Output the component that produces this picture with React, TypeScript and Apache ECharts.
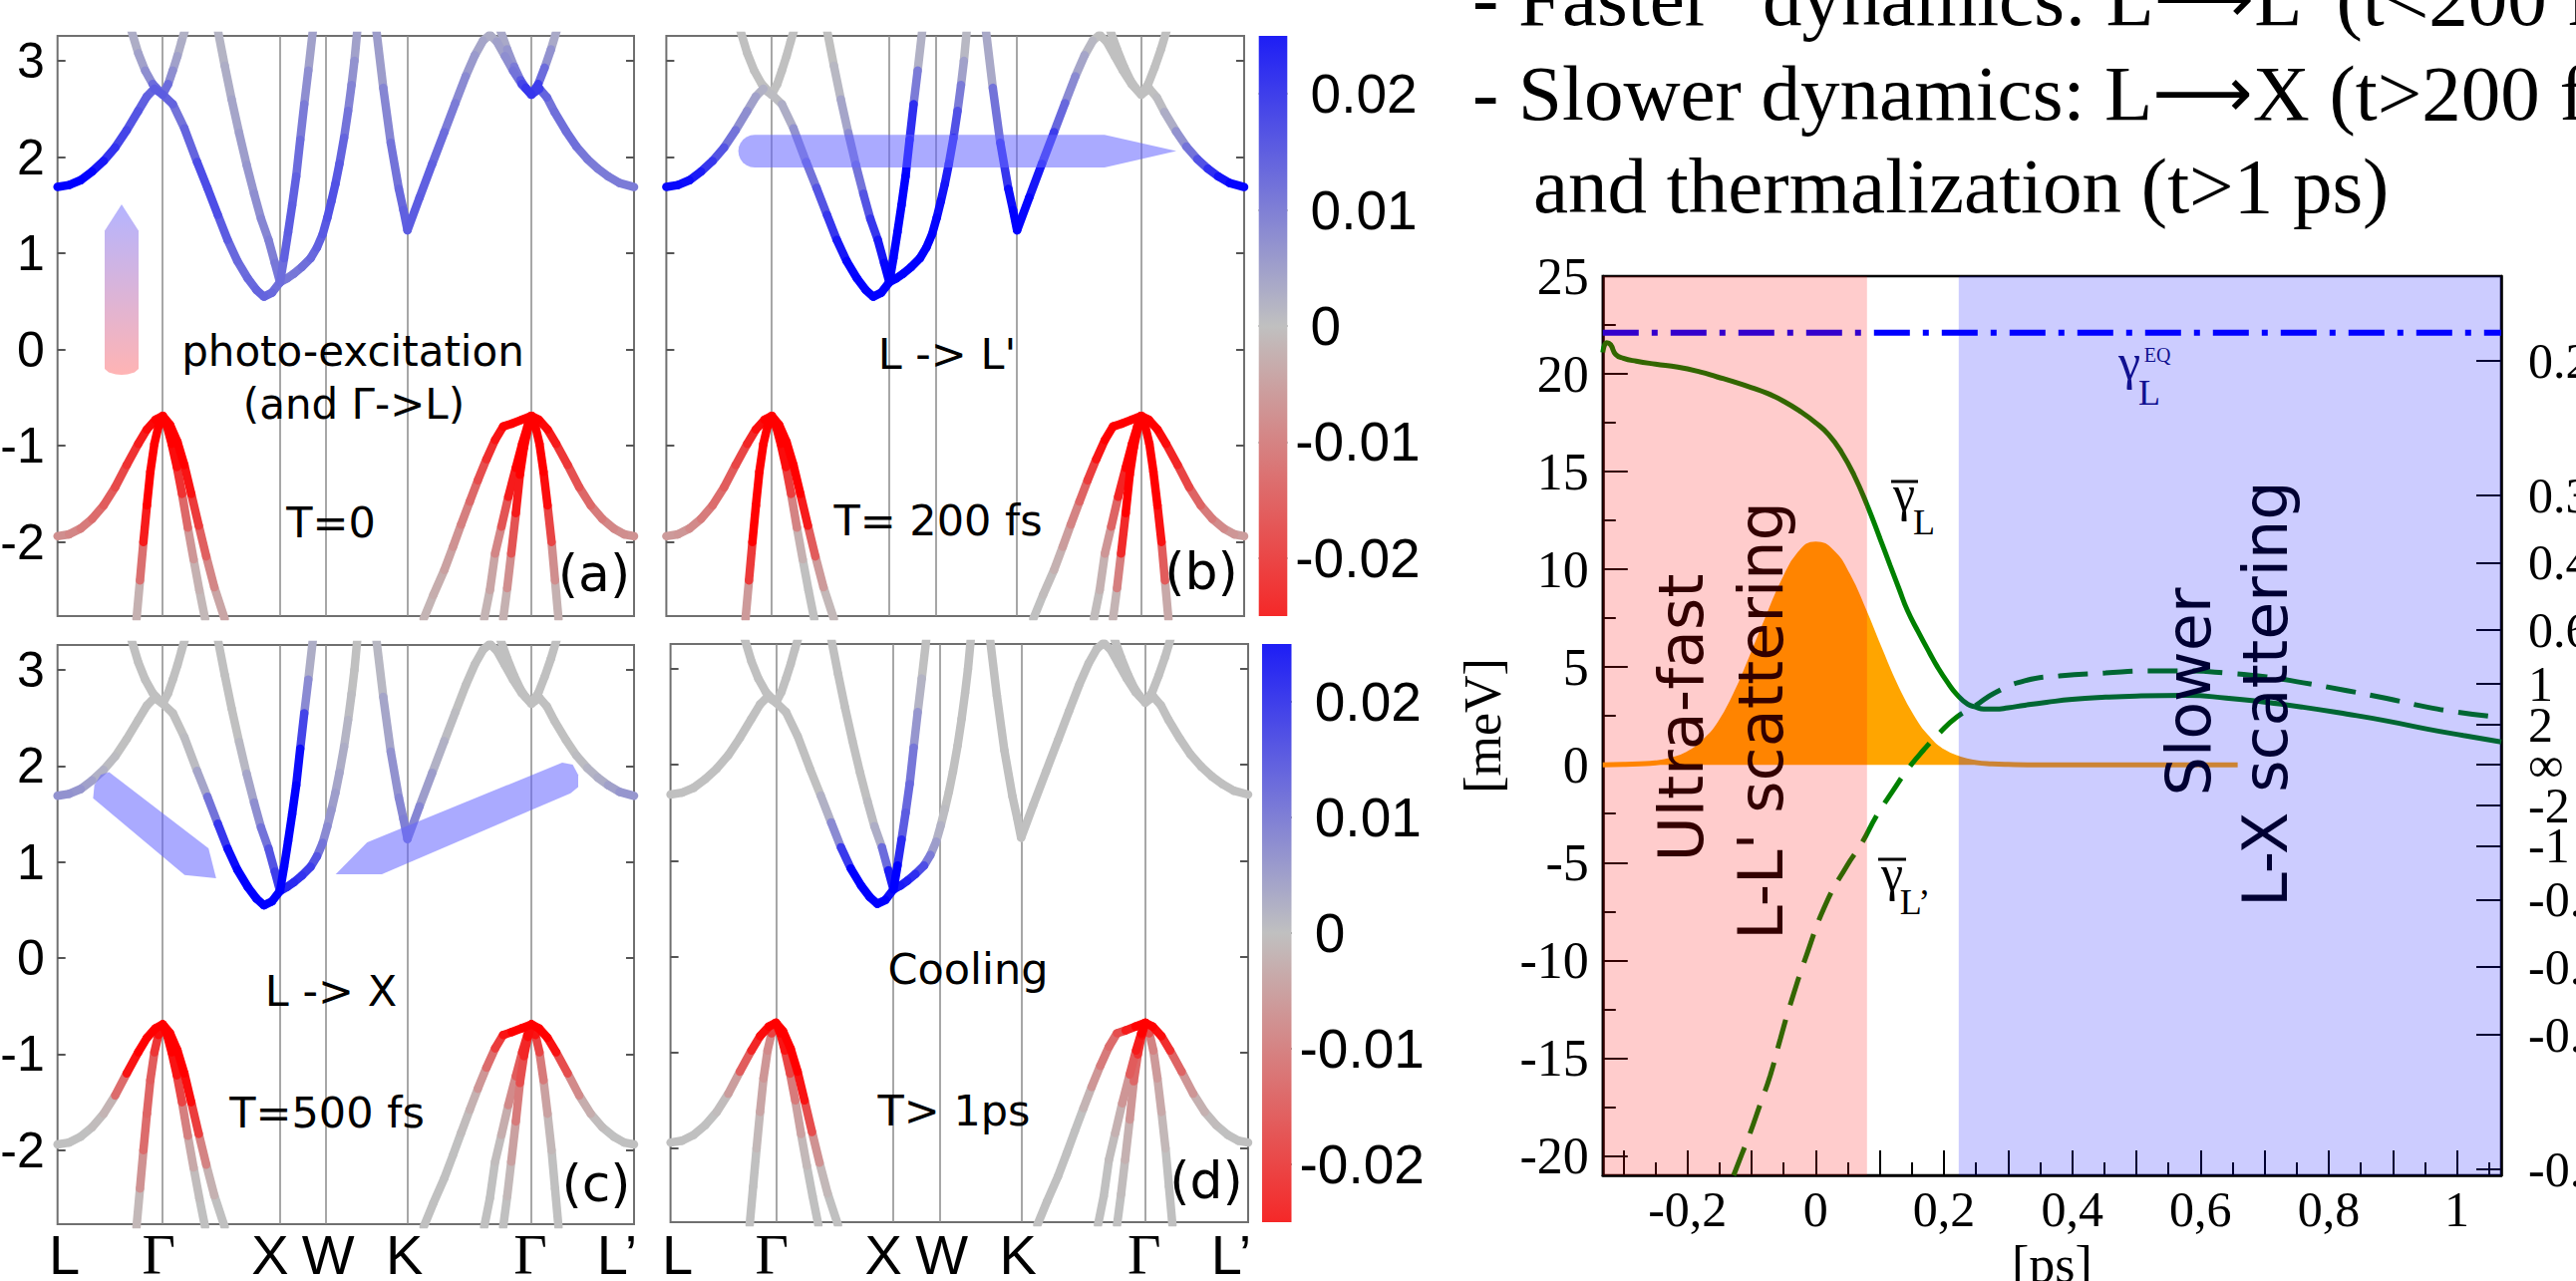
import React, { useEffect, useRef } from 'react';
import * as echarts from 'echarts';

// ================= Band-structure panels (a)-(d) =================
const K_POINTS = [0, 0.1825, 0.386, 0.466, 0.607, 0.822, 1];
const K_LABELS = ['L', 'Γ', 'X', 'W', 'K', 'Γ', 'L’'];
const E_TICKS = [-2, -1, 0, 1, 2, 3];
const E_RANGE = [-2.77, 3.26];

// conduction bands: [k (path fraction), E (eV)]
const cb1 = [[0,1.69],[0.02,1.71],[0.04,1.76],[0.06,1.85],[0.08,1.96],[0.1,2.1],[0.12,2.28],[0.14,2.48],[0.155,2.63],[0.168,2.71],[0.1825,2.65]];
const cb2 = [[0.128,3.32],[0.14,3.08],[0.152,2.9],[0.165,2.76],[0.1825,2.65]];
const cb3 = [[0.1825,2.65],[0.192,2.76],[0.2,2.9],[0.208,3.05],[0.215,3.2],[0.221,3.32]];
const cb4 = [[0.1825,2.65],[0.2,2.55],[0.22,2.3],[0.242,1.95],[0.26,1.68],[0.278,1.4],[0.295,1.14],[0.312,0.92],[0.33,0.74],[0.345,0.62],[0.358,0.55],[0.372,0.59],[0.386,0.7]];
const cb5 = [[0.278,3.32],[0.29,2.95],[0.302,2.6],[0.315,2.25],[0.328,1.92],[0.341,1.62],[0.353,1.36],[0.366,1.14],[0.377,0.9],[0.386,0.7]];
const cb6 = [[0.386,0.7],[0.393,0.95],[0.4,1.22],[0.407,1.5],[0.414,1.8],[0.421,2.18],[0.428,2.55],[0.435,2.9],[0.443,3.32]];
const cb7 = [[0.386,0.7],[0.398,0.74],[0.41,0.79],[0.424,0.86],[0.439,0.95],[0.45,1.06],[0.46,1.2],[0.468,1.37],[0.475,1.54],[0.482,1.72],[0.489,1.93],[0.497,2.2],[0.504,2.48],[0.51,2.75],[0.515,3.0],[0.52,3.32]];
const cb8 = [[0.553,3.32],[0.565,2.72],[0.578,2.15],[0.592,1.67],[0.6,1.45],[0.607,1.24]];
const cb9 = [[0.607,1.24],[0.628,1.58],[0.65,1.93],[0.671,2.26],[0.69,2.56],[0.708,2.84],[0.724,3.06],[0.738,3.21],[0.75,3.27],[0.762,3.2],[0.776,3.05],[0.79,2.9],[0.805,2.76],[0.822,2.65]];
const cb10 = [[0.768,3.32],[0.78,3.12],[0.792,2.94],[0.803,2.8],[0.812,2.72],[0.822,2.65]];
const cb11 = [[0.822,2.65],[0.834,2.76],[0.845,2.93],[0.856,3.12],[0.866,3.32]];
const cb12 = [[0.822,2.65],[0.836,2.71],[0.849,2.62],[0.862,2.47],[0.882,2.27],[0.9,2.11],[0.919,1.98],[0.937,1.88],[0.955,1.8],[0.975,1.73],[1.0,1.69]];
// valence bands
const vb1 = [[0,-1.94],[0.02,-1.92],[0.04,-1.86],[0.06,-1.76],[0.08,-1.62],[0.1,-1.43],[0.12,-1.2],[0.14,-0.98],[0.155,-0.83],[0.17,-0.73],[0.1825,-0.69]];
const vb2 = [[0.137,-2.8],[0.143,-2.4],[0.149,-2.0],[0.155,-1.62],[0.161,-1.27],[0.168,-0.98],[0.175,-0.8],[0.1825,-0.69]];
const vb3 = [[0.1825,-0.69],[0.195,-0.78],[0.208,-0.96],[0.22,-1.2],[0.232,-1.5],[0.245,-1.83],[0.258,-2.15],[0.272,-2.47],[0.29,-2.8]];
const vb4 = [[0.1825,-0.69],[0.19,-0.8],[0.198,-0.98],[0.207,-1.22],[0.216,-1.5],[0.226,-1.85],[0.236,-2.18],[0.246,-2.5],[0.256,-2.8]];
const vb5 = [[0.635,-2.8],[0.652,-2.55],[0.671,-2.29],[0.686,-2.05],[0.7,-1.82],[0.715,-1.58],[0.729,-1.36],[0.744,-1.14],[0.759,-0.94],[0.773,-0.8],[0.788,-0.77],[0.805,-0.73],[0.822,-0.69]];
const vb6 = [[0.74,-2.8],[0.75,-2.5],[0.759,-2.12],[0.77,-1.84],[0.782,-1.53],[0.795,-1.23],[0.806,-0.98],[0.815,-0.8],[0.822,-0.69]];
const vb7 = [[0.773,-2.8],[0.78,-2.48],[0.787,-2.12],[0.795,-1.7],[0.802,-1.3],[0.809,-1.02],[0.816,-0.82],[0.822,-0.69]];
const vb8 = [[0.822,-0.69],[0.835,-0.73],[0.85,-0.83],[0.865,-0.98],[0.885,-1.2],[0.905,-1.43],[0.925,-1.62],[0.945,-1.76],[0.965,-1.86],[0.983,-1.92],[1.0,-1.94]];
const vb9 = [[0.822,-0.69],[0.829,-0.8],[0.836,-0.98],[0.843,-1.27],[0.85,-1.62],[0.857,-2.0],[0.863,-2.4],[0.869,-2.8]];

const BANDS = { cb1, cb2, cb3, cb4, cb5, cb6, cb7, cb8, cb9, cb10, cb11, cb12, vb1, vb2, vb3, vb4, vb5, vb6, vb7, vb8, vb9 };

// carrier population per band point (units of 1e-3, colour-bar scale)
const POP_A = {
  cb1: [25,25,25,24,20,17,15,13,12,12,14], cb2: [2,3,5,8,14], cb3: [14,8,5,3,2,2],
  cb4: [14,10,10,14,16,14,12,11,11,12,12,11,10], cb5: [1,2,3,4,5,6,7,8,9,10],
  cb6: [10,12,13,13,12,10,8,5,3], cb7: [10,9,9,10,11,12,13,14,15,14,13,11,9,7,5,3],
  cb8: [3,6,9,11,12,13], cb9: [13,13,12,10,8,6,4,3,2,3,5,8,12,20], cb10: [2,4,7,11,16,20],
  cb11: [20,14,8,4,2], cb12: [20,14,10,10,11,10,9,9,9,9,9],
  vb1: [-6,-7,-8,-10,-12,-14,-17,-20,-23,-25,-25], vb2: [-1,-3,-18,-25,-25,-25,-25,-25],
  vb3: [-25,-25,-25,-25,-20,-15,-10,-5,-2], vb4: [-25,-25,-25,-22,-15,-8,-3,-1,-1],
  vb5: [-1,-2,-3,-5,-7,-10,-13,-17,-21,-24,-25,-25,-25], vb6: [-1,-2,-5,-10,-18,-25,-25,-25,-25],
  vb7: [-1,-3,-10,-18,-25,-25,-25,-25], vb8: [-25,-25,-23,-20,-16,-13,-10,-8,-7,-6,-6],
  vb9: [-25,-25,-25,-25,-22,-10,-3,-1],
};
const POP_B = {
  cb1: [24,24,23,20,16,12,8,5,3,1,0], cb4: [0,1,4,8,12,16,20,24,25,25,25,25,25],
  cb5: [0,0,2,5,8,12,16,20,24,25], cb6: [25,25,25,25,25,24,14,4,0],
  cb7: [25,25,25,25,25,25,25,24,23,22,20,17,12,6,2,0], cb8: [0,6,14,22,25,25],
  cb9: [25,24,20,14,9,5,2,0,0,0,0,0,0,0], cb12: [0,0,0,1,4,8,12,17,21,24,25],
  vb1: [-5,-5,-6,-8,-10,-12,-14,-18,-22,-25,-25], vb2: [0,-10,-25,-25,-25,-25,-25,-25],
  vb3: [-25,-25,-25,-25,-25,-18,-8,-2,0], vb4: [-25,-25,-25,-22,-12,-4,0,0,0],
  vb5: [0,0,-1,-3,-6,-10,-14,-20,-25,-25,-25,-25,-25], vb6: [0,-1,-3,-8,-16,-25,-25,-25,-25],
  vb7: [0,-3,-14,-25,-25,-25,-25,-25], vb8: [-25,-25,-25,-22,-18,-14,-10,-8,-6,-5,-4],
  vb9: [-25,-25,-25,-25,-25,-20,-6,0],
};
const POP_C = {
  cb1: [6,6,5,3,1,0,0,0,0,0,0], cb4: [0,0,0,1,6,14,22,25,25,25,25,25,25],
  cb5: [0,0,0,0,2,5,8,12,16,18], cb6: [25,25,25,25,25,22,10,4,1],
  cb7: [20,20,19,18,16,12,8,6,5,4,3,2,1,0,0,0], cb8: [0,2,5,7,8,9],
  cb9: [9,6,3,1,0,0,0,0,0,0,0,0,0,0], cb12: [0,0,0,0,0,0,1,2,3,5,6],
  vb1: [0,0,0,0,-1,-2,-20,-25,-25,-25,-25], vb2: [0,-2,-10,-12,-12,-14,-22,-25],
  vb3: [-25,-25,-25,-25,-22,-12,-4,0,0], vb4: [-25,-25,-25,-20,-12,-5,-1,0,0],
  vb5: [0,0,0,0,0,-1,-3,-8,-14,-20,-25,-25,-25], vb6: [0,0,0,-1,-4,-10,-16,-22,-25],
  vb7: [0,0,-2,-6,-12,-18,-22,-25], vb8: [-25,-25,-25,-20,-10,-4,-1,0,0,0,0],
  vb9: [-25,-20,-12,-6,-2,0,0,0],
};
const POP_D = {
  cb4: [0,0,0,0,0,4,10,25,25,25,25,25,22], cb5: [0,0,0,0,0,0,1,4,18,25],
  cb6: [25,25,14,12,11,8,3,0,0], cb7: [22,22,20,18,12,6,3,1,0,0,0,0,0,0,0,0],
  vb1: [0,0,0,0,0,-1,-8,-18,-22,-25,-25], vb2: [0,0,0,-2,-5,-6,-8,-25],
  vb3: [-25,-25,-25,-25,-20,-10,-2,0,0], vb4: [-25,-25,-20,-12,-6,-2,0,0,0],
  vb5: [0,0,0,0,0,0,-3,-8,-10,-12,-18,-25,-25], vb6: [0,0,0,-1,-3,-8,-18,-25,-25],
  vb7: [0,0,-1,-3,-8,-15,-22,-25], vb8: [-25,-25,-22,-16,-8,-3,-1,0,0,0,0],
  vb9: [-20,-10,-6,-4,-2,0,0,0],
};
const CB_TICKS = [-0.02, -0.01, 0, 0.01, 0.02];
const CB_RANGE = [-0.025, 0.025];

// ================= Right chart: scattering rates =================
const X_RANGE = [-0.332, 1.069];
const Y_RANGE = [-21, 25];
const Y_MAJOR = [-20, -15, -10, -5, 0, 5, 10, 15, 20, 25];
const Y_MINOR = [-17.5, -12.5, -7.5, -2.5, 2.5, 7.5, 12.5, 17.5, 22.5];
const X_MAJOR = [-0.3, -0.2, -0.1, 0, 0.1, 0.2, 0.3, 0.4, 0.5, 0.6, 0.7, 0.8, 0.9, 1.0];
const X_LABELED = [-0.2, 0, 0.2, 0.4, 0.6, 0.8, 1.0];
const X_MINOR = [-0.25, -0.15, -0.05, 0.05, 0.15, 0.25, 0.35, 0.45, 0.55, 0.65, 0.75, 0.85, 0.95, 1.05];
const TAU_VALUES = [0.2, 0.3, 0.4, 0.6, 1, 2, Infinity, -2, -1, -0.6, -0.4, -0.3, -0.2];
const TAU_LABELS = ['0.2', '0.3', '0.4', '0.6', '1', '2', '∞', '-2', '-1', '-0.6', '-0.4', '-0.3', '-0.2'];
const PLANCK_MEV_PS = 4.136;

const T_PULSE = [-0.332,-0.3,-0.275,-0.25,-0.225,-0.2,-0.175,-0.15,-0.125,-0.1,-0.075,-0.05,-0.025,0,0.025,0.05,0.075,0.1,0.125,0.15,0.175,0.2,0.225,0.25,0.275,0.3,0.35,0.4,0.5,0.6,0.658];
const PULSE = [0,0.02,0.05,0.1,0.25,0.55,1.15,2.1,3.6,5.5,7.5,9.4,10.8,11.3,10.9,9.7,7.9,5.9,4.0,2.45,1.35,0.65,0.3,0.12,0.05,0.02,0,0,0,0,0];

const T_GL = [-0.332,-0.326,-0.32,-0.312,-0.3,-0.28,-0.25,-0.215,-0.18,-0.154,-0.128,-0.1,-0.075,-0.05,-0.025,0,0.02,0.04,0.06,0.08,0.1,0.116,0.13,0.143,0.16,0.178,0.19,0.206,0.22,0.237,0.25,0.262,0.28,0.3,0.326,0.36,0.4,0.452,0.5,0.578,0.64,0.703,0.76,0.828,0.89,0.954,1.01,1.069];
const GAMMA_L = [21.1,21.6,21.5,21.0,20.8,20.65,20.5,20.35,20.1,19.85,19.6,19.3,19.0,18.6,18.1,17.5,16.9,16.0,14.8,13.3,11.6,10.2,9.0,7.9,6.8,5.7,5.0,4.2,3.6,3.1,2.95,2.85,2.85,2.92,3.05,3.2,3.35,3.46,3.52,3.55,3.42,3.2,2.95,2.6,2.25,1.83,1.5,1.17];

const T_GLP = [-0.128,-0.115,-0.103,-0.087,-0.071,-0.055,-0.04,-0.015,0.016,0.048,0.072,0.095,0.12,0.143,0.168,0.192,0.22,0.248,0.28,0.326,0.38,0.452,0.52,0.578,0.64,0.703,0.76,0.828,0.89,0.954,1.0,1.061];
const GAMMA_LP = [-21.0,-19.9,-18.9,-17.4,-15.9,-14.0,-12.3,-9.8,-7.1,-5.2,-4.0,-2.6,-1.35,-0.25,0.75,1.6,2.45,3.0,3.7,4.3,4.55,4.7,4.8,4.8,4.7,4.5,4.2,3.8,3.4,2.95,2.7,2.45];

const GAMMA_EQ = 22.1;
const SHADE_RANGES = [[-0.332, 0.08], [0.223, 1.069]];
const SHADE_COLORS = ['rgba(255,0,0,0.2)', 'rgba(0,0,255,0.2)'];

// ================= helpers =================
function popColor(v: number) {
  const t = Math.max(-1, Math.min(1, v / 25));
  const g = 192;
  let r, gg, b;
  if (t >= 0) { r = g * (1 - t); gg = g * (1 - t); b = g + (255 - g) * t; }
  else { const s = -t; r = g + (255 - g) * s; gg = g * (1 - s); b = g * (1 - s); }
  return `rgb(${Math.round(r)},${Math.round(gg)},${Math.round(b)})`;
}

function bandSegments(pop: any) {
  const out: any[] = [];
  Object.keys(BANDS).forEach((name) => {
    const pts = (BANDS as any)[name];
    const vals = pop[name] || [];
    for (let i = 0; i < pts.length - 1; i++) {
      const v = ((vals[i] ?? 0) + (vals[i + 1] ?? 0)) / 2;
      out.push({ v, coords: [pts[i], pts[i + 1]], lineStyle: { color: popColor(v) } });
    }
  });
  out.sort((a, b) => Math.abs(a.v) - Math.abs(b.v));
  return out.map(({ coords, lineStyle }) => ({ coords, lineStyle }));
}

const zip = (xs: number[], ys: number[]) => xs.map((x, i) => [x, ys[i]]);

const PANELS = [
  { left: 57.7, top: 36, width: 578.3, height: 582, labels: true, pop: POP_A },
  { left: 668.4, top: 36, width: 579.6, height: 582, labels: false, pop: POP_B },
  { left: 57.7, top: 647, width: 578.3, height: 581, labels: true, pop: POP_C },
  { left: 672.6, top: 646, width: 579.4, height: 580, labels: false, pop: POP_D },
];
const CBARS = [
  { left: 1262.7, top: 36, width: 28.6, height: 582 },
  { left: 1266, top: 646, width: 29.5, height: 580 },
];
const RIGHT = { left: 1607.8, top: 277, width: 901.2, height: 902 };
const K_LABEL_OFFSETS = [7, -4, -10, 2, -3, -1, -17];

function txt(x: number, y: number, text: string, size: number, family = 'DejaVu Sans', fill = '#000', align = 'center', rotation = 0) {
  return {
    type: 'text', x, y, rotation, z: 100, silent: true,
    style: { text, fontFamily: family, fontSize: size, fill, align, verticalAlign: 'middle' },
  };
}

function arrowLine(x: number, y: number, before: string, after: string) {
  return {
    type: 'text', x, y, z: 100, silent: true,
    style: {
      text: `{a|${before}}{b|⟶}{a|${after}}`, align: 'left', verticalAlign: 'middle',
      rich: {
        a: { fontFamily: 'Liberation Serif', fontSize: 79, fill: '#000' },
        b: { fontFamily: 'DejaVu Sans', fontSize: 70, fill: '#000' },
      },
    },
  };
}

function buildOption() {
  const grid: any[] = [];
  const xAxis: any[] = [];
  const yAxis: any[] = [];
  const series: any[] = [];

  PANELS.forEach((p, i) => {
    grid.push({ left: p.left, top: p.top, width: p.width, height: p.height, show: true, borderColor: '#707070', borderWidth: 2, backgroundColor: 'rgba(0,0,0,0)', outerBoundsMode: 'none', containLabel: false });
    xAxis.push({ gridIndex: i, type: 'value', min: 0, max: 1, show: false });
    const mkTick = () => ({ show: true, inside: true, length: 8, customValues: E_TICKS, lineStyle: { color: '#555', width: 2 } });
    yAxis.push({
      gridIndex: i, type: 'value', min: E_RANGE[0], max: E_RANGE[1], position: 'left',
      axisLine: { show: false, onZero: false }, axisTick: mkTick(), splitLine: { show: false },
      axisLabel: { show: p.labels, customValues: E_TICKS, fontFamily: 'Liberation Sans', fontSize: 50, color: '#000', margin: 13 },
    });
    yAxis.push({
      gridIndex: i, type: 'value', min: E_RANGE[0], max: E_RANGE[1], position: 'right',
      axisLine: { show: false, onZero: false }, axisTick: mkTick(), splitLine: { show: false }, axisLabel: { show: false },
    });
    series.push({
      type: 'lines', coordinateSystem: 'cartesian2d', xAxisIndex: i, yAxisIndex: 2 * i, polyline: false, silent: true, z: 1,
      lineStyle: { color: '#8a8a8a', width: 1.5, opacity: 1 },
      data: K_POINTS.slice(1, -1).map((k) => ({ coords: [[k, E_RANGE[0]], [k, E_RANGE[1]]] })),
    });
    series.push({
      type: 'lines', coordinateSystem: 'cartesian2d', xAxisIndex: i, yAxisIndex: 2 * i, polyline: false, silent: true, z: 3, clip: true,
      lineStyle: { width: 8.5, cap: 'round', opacity: 1 },
      data: bandSegments(p.pop),
    });
  });

  CBARS.forEach((c, j) => {
    const gi = 4 + j;
    grid.push({ left: c.left, top: c.top, width: c.width, height: c.height, show: false, outerBoundsMode: 'none', containLabel: false });
    xAxis.push({ gridIndex: gi, type: 'value', min: 0, max: 1, show: false });
    const tick = { show: true, inside: true, length: 6, customValues: CB_TICKS, lineStyle: { color: '#444', width: 2 } };
    yAxis.push({ gridIndex: gi, type: 'value', min: CB_RANGE[0], max: CB_RANGE[1], position: 'left', axisLine: { show: false, onZero: false }, axisTick: tick, axisLabel: { show: false }, splitLine: { show: false } });
    yAxis.push({
      gridIndex: gi, type: 'value', min: CB_RANGE[0], max: CB_RANGE[1], position: 'right',
      axisLine: { show: false, onZero: false }, axisTick: { ...tick }, splitLine: { show: false },
      axisLabel: {
        customValues: CB_TICKS, align: 'left', margin: 8, fontFamily: 'Liberation Sans', fontSize: 55, color: '#000',
        formatter: (v: number) => (Math.abs(v) < 1e-9 ? '\u00a00' : v < 0 ? v.toFixed(2) : '\u00a0' + v.toFixed(2)),
      },
    });
    series.push({
      type: 'custom', xAxisIndex: gi, yAxisIndex: 8 + 2 * j, silent: true, z: 2, data: [[0.5, 0]],
      renderItem: (params: any) => {
        const cs = params.coordSys;
        return {
          type: 'rect', shape: { x: cs.x, y: cs.y, width: cs.width, height: cs.height },
          style: { fill: new echarts.graphic.LinearGradient(0, 0, 0, 1, [
            { offset: 0, color: '#1e1ef5' }, { offset: 0.5, color: '#c0c0c0' }, { offset: 1, color: '#f52828' },
          ]) },
        };
      },
    });
  });

  // ----- right chart -----
  const RG = 6;
  grid.push({ left: RIGHT.left, top: RIGHT.top, width: RIGHT.width, height: RIGHT.height, show: true, borderColor: '#000', borderWidth: 2.5, backgroundColor: 'rgba(0,0,0,0)', outerBoundsMode: 'none', containLabel: false });
  const serif = 'Liberation Serif';
  xAxis.push({
    gridIndex: RG, type: 'value', min: X_RANGE[0], max: X_RANGE[1], position: 'bottom',
    axisLine: { show: true, onZero: false, lineStyle: { color: '#000', width: 2.5 } },
    axisTick: { show: true, inside: true, length: 25, customValues: X_MAJOR, lineStyle: { color: '#000', width: 2 } },
    axisLabel: { customValues: X_LABELED, fontFamily: serif, fontSize: 50, color: '#000', margin: 9,
      formatter: (v: number) => String(Math.round(v * 10) / 10).replace('.', ',') },
    splitLine: { show: false },
    name: '[ps]', nameLocation: 'middle', nameGap: 60, nameTextStyle: { fontFamily: serif, fontSize: 52, color: '#000' },
  });
  xAxis.push({
    gridIndex: RG, type: 'value', min: X_RANGE[0], max: X_RANGE[1], position: 'bottom',
    axisLine: { show: false, onZero: false },
    axisTick: { show: true, inside: true, length: 13, customValues: X_MINOR, lineStyle: { color: '#000', width: 2 } },
    axisLabel: { show: false }, splitLine: { show: false },
  });
  yAxis.push({
    gridIndex: RG, type: 'value', min: Y_RANGE[0], max: Y_RANGE[1], position: 'left',
    axisLine: { show: true, onZero: false, lineStyle: { color: '#000', width: 2.5 } },
    axisTick: { show: true, inside: true, length: 25, customValues: Y_MAJOR, lineStyle: { color: '#000', width: 2 } },
    axisLabel: { customValues: Y_MAJOR, fontFamily: serif, fontSize: 52, color: '#000', margin: 14 },
    splitLine: { show: false },
    name: '[meV]', nameLocation: 'middle', nameGap: 94, nameRotate: 90, nameTextStyle: { fontFamily: serif, fontSize: 52, color: '#000' },
  });
  yAxis.push({
    gridIndex: RG, type: 'value', min: Y_RANGE[0], max: Y_RANGE[1], position: 'left',
    axisLine: { show: false, onZero: false },
    axisTick: { show: true, inside: true, length: 13, customValues: Y_MINOR, lineStyle: { color: '#000', width: 2 } },
    axisLabel: { show: false }, splitLine: { show: false },
  });
  const tauPos = TAU_VALUES.map((t) => (isFinite(t) ? PLANCK_MEV_PS / t : 0));
  yAxis.push({
    gridIndex: RG, type: 'value', min: Y_RANGE[0], max: Y_RANGE[1], position: 'right',
    axisLine: { show: true, onZero: false, lineStyle: { color: '#000', width: 2.5 } },
    axisTick: { show: true, inside: true, length: 25, customValues: tauPos, lineStyle: { color: '#000', width: 2 } },
    axisLabel: { customValues: tauPos, fontFamily: serif, fontSize: 50, color: '#000', margin: 27, align: 'left',
      formatter: (v: number) => {
        let best = 0;
        tauPos.forEach((p, i) => { if (Math.abs(p - v) < Math.abs(tauPos[best] - v)) best = i; });
        return TAU_LABELS[best];
      } },
    splitLine: { show: false },
  });
  const RX = 6, RY = 12;
  series.push({
    type: 'line', xAxisIndex: RX, yAxisIndex: RY, data: zip(T_PULSE, PULSE), smooth: true, symbol: 'none', showSymbol: false, z: 2, silent: true,
    lineStyle: { color: '#ffa500', width: 5 }, areaStyle: { color: '#ffa500', opacity: 1 },
  });
  series.push({
    type: 'line', xAxisIndex: RX, yAxisIndex: RY, data: zip(T_GL, GAMMA_L), smooth: true, symbol: 'none', showSymbol: false, z: 3, silent: true,
    lineStyle: { color: '#008000', width: 5 },
  });
  series.push({
    type: 'line', xAxisIndex: RX, yAxisIndex: RY, data: zip(T_GLP, GAMMA_LP), smooth: true, symbol: 'none', showSymbol: false, z: 3, silent: true,
    lineStyle: { color: '#008000', width: 5, type: [30, 15] },
  });
  series.push({
    type: 'line', xAxisIndex: RX, yAxisIndex: RY, data: [[X_RANGE[0], GAMMA_EQ], [X_RANGE[1], GAMMA_EQ]], symbol: 'none', showSymbol: false, z: 3, silent: true,
    lineStyle: { color: '#0000ff', width: 6, type: [36, 13, 6, 13] },
  });
  series.push({
    type: 'custom', xAxisIndex: RX, yAxisIndex: RY, silent: true, z: 10, data: SHADE_RANGES,
    encode: { x: [0, 1] },
    renderItem: (params: any, api: any) => {
      const p0 = api.coord([api.value(0), Y_RANGE[1]]);
      const p1 = api.coord([api.value(1), Y_RANGE[0]]);
      return { type: 'rect', shape: { x: p0[0], y: p0[1], width: p1[0] - p0[0], height: p1[1] - p0[1] }, style: { fill: SHADE_COLORS[params.dataIndex] } };
    },
  });

  // ----- graphic annotations -----
  const arrowFill = 'rgba(100,100,255,0.55)';
  const arcPts: number[][] = [];
  for (let s = 12; s >= 0; s--) {
    const th = (Math.PI * s) / 12;
    arcPts.push([757 - 16.4 * Math.sin(th), 151.6 - 16.4 * Math.cos(th)]);
  }
  const graphic: any[] = [
    { type: 'polygon', z: 50, silent: true,
      shape: { points: [[105,231.6],[122,205],[139,231.6],[139,370],[135,373.5],[128,375.5],[122,376],[116,375.5],[109,373.5],[105,370]] },
      style: { fill: new echarts.graphic.LinearGradient(0, 0, 0, 1, [{ offset: 0, color: '#b4b4ff' }, { offset: 1, color: '#ffb4b4' }]) } },
    { type: 'polygon', z: 50, silent: true,
      shape: { points: [[757,135.2],[1108,135.2],[1180,151.6],[1108,168],[757,168], ...arcPts.slice(1)] },
      style: { fill: arrowFill } },
    { type: 'polygon', z: 50, silent: true,
      shape: { points: [[109.4,774.4],[209.2,851],[216.8,881],[185.2,877.7],[93.4,800.7],[94.7,787.5],[101,777.3]] },
      style: { fill: arrowFill } },
    { type: 'polygon', z: 50, silent: true,
      shape: { points: [[564,765],[574.5,767],[580,777.3],[580,789.6],[572.4,795.7],[383,876.9],[336.7,876.9],[368.3,845]] },
      style: { fill: arrowFill } },

    txt(354, 352, 'photo-excitation', 42),
    txt(355, 405.5, '(and Γ->L)', 42),
    txt(332, 523.5, 'T=0', 43),
    txt(596, 575, '(a)', 52),
    txt(950, 354.5, "L -> L'", 43),
    txt(941, 521.5, 'T= 200 fs', 43),
    txt(1205, 573, '(b)', 52),
    txt(332, 993.5, 'L -> X', 43),
    txt(328, 1116, 'T=500 fs', 43),
    txt(598, 1187, '(c)', 52),
    txt(971, 972, 'Cooling', 43),
    txt(957, 1113.5, 'T> 1ps', 43),
    txt(1210, 1184, '(d)', 52),

    arrowLine(1477, -2, '- Faster" dynamics: L', "L' (t<200 fs)"),
    arrowLine(1477, 93, '- Slower dynamics: L', 'X (t>200 fs)'),
    txt(1538, 186, 'and thermalization (t>1 ps)', 79, serif, '#000', 'left'),

    txt(1686, 720, 'Ultra-fast', 62, 'DejaVu Sans', '#330000', 'center', Math.PI / 2),
    txt(1766, 723, "L-L' scattering", 62, 'DejaVu Sans', '#330000', 'center', Math.PI / 2),
    txt(2195, 694, 'Slower', 62, 'DejaVu Sans', '#000033', 'center', Math.PI / 2),
    txt(2272, 696, 'L-X scattering', 62, 'DejaVu Sans', '#000033', 'center', Math.PI / 2),

    txt(1910, 495, 'γ', 50, serif),
    { type: 'line', z: 100, silent: true, shape: { x1: 1897, y1: 483, x2: 1924, y2: 483 }, style: { stroke: '#000', lineWidth: 3 } },
    txt(1930, 524, 'L', 36, serif),
    txt(1898, 876, 'γ', 50, serif),
    { type: 'line', z: 100, silent: true, shape: { x1: 1884, y1: 862, x2: 1912, y2: 862 }, style: { stroke: '#000', lineWidth: 3 } },
    txt(1921, 905, 'L’', 36, serif),
    txt(2136, 363, 'γ', 50, serif, '#101090'),
    txt(2164, 356, 'EQ', 20, serif, '#101090'),
    txt(2156, 394, 'L', 36, serif, '#101090'),
  ];
  [PANELS[2], PANELS[3]].forEach((p) => {
    K_POINTS.forEach((k, i) => {
      const isGamma = K_LABELS[i] === 'Γ';
      graphic.push(txt(p.left + k * p.width + K_LABEL_OFFSETS[i], 1258, K_LABELS[i], isGamma ? 58 : 56, isGamma ? serif : 'Liberation Sans'));
    });
  });

  return {
    animation: false,
    backgroundColor: '#ffffff',
    textStyle: { fontFamily: 'Liberation Sans' },
    grid, xAxis, yAxis, series, graphic,
  };
}

export default function App() {
  const ref = useRef<HTMLDivElement>(null);
  useEffect(() => {
    document.body.style.margin = '0';
    const chart = echarts.init(ref.current as HTMLDivElement, null, { renderer: 'svg' });
    chart.setOption(buildOption() as any);
    return () => chart.dispose();
  }, []);
  return <div ref={ref} style={{ position: 'absolute', left: 0, top: 0, width: 2584, height: 1285, background: '#fff' }} />;
}
